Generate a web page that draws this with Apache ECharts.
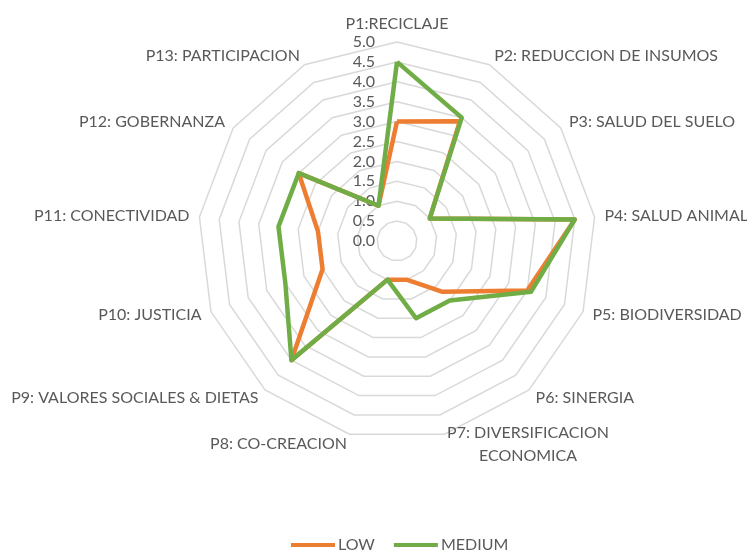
<!DOCTYPE html>
<html>
<head>
<meta charset="utf-8">
<script src="https://cdn.jsdelivr.net/npm/echarts@6/dist/echarts.min.js"></script>
<style>
  html, body { margin: 0; padding: 0; background: #fff; }
  #chart { width: 747px; height: 552px; }
</style>
</head>
<body>
<div id="chart"></div>
<script>
// Principles, listed clockwise from the top
const categories = [
  'P1:RECICLAJE',
  'P2: REDUCCION DE INSUMOS',
  'P3: SALUD DEL SUELO',
  'P4: SALUD ANIMAL',
  'P5: BIODIVERSIDAD',
  'P6: SINERGIA',
  'P7: DIVERSIFICACION\nECONOMICA',
  'P8: CO-CREACION',
  'P9: VALORES SOCIALES & DIETAS',
  'P10: JUSTICIA',
  'P11: CONECTIVIDAD',
  'P12: GOBERNANZA',
  'P13: PARTICIPACION'
];
const lowValues    = [3.0, 3.4, 1.0, 4.5, 3.5, 1.7, 1.0, 1.0, 4.0, 2.0, 2.0, 3.0, 1.0];
const mediumValues = [4.5, 3.5, 1.0, 4.5, 3.6, 2.0, 2.0, 1.0, 4.0, 3.0, 3.0, 3.0, 1.0];
const seriesNames  = ['LOW', 'MEDIUM'];
const seriesColors = ['#ED7D31', '#70AD47'];
const scaleMax = 5;
const scaleStep = 0.5;

// ECharts lays radar indicators out counter-clockwise; keep the first one on top
// and reverse the rest so the principles run clockwise.
const order = [0].concat(categories.slice(1).map((_, i) => categories.length - 1 - i));
const pick = arr => order.map(i => arr[i]);

const textColor = '#595959';
const fontFamily = 'Lato, "Noto Sans", sans-serif';
const fontSize = 16;

const indicator = pick(categories).map((name, k) => {
  const ind = { name: name, min: 0, max: scaleMax };
  if (k === 0) {
    // value scale printed once, beside the top spoke
    ind.axisLabel = {
      show: true,
      color: textColor,
      fontSize: fontSize,
      fontFamily: fontFamily,
      padding: [0, 14, 0, 0],
      formatter: v => Number(v).toFixed(1)
    };
  }
  return ind;
});

// two-line names: centre each line inside its block
const nameFormatter = name => {
  if (name.indexOf('\n') < 0) return name;
  return name.split('\n').map(line => '{c|' + line + '}').join('\n');
};

const chart = echarts.init(document.getElementById('chart'), null, { renderer: 'canvas' });
chart.setOption({
  backgroundColor: '#ffffff',
  animation: false,
  color: seriesColors,
  legend: {
    data: seriesNames,
    top: 532,
    left: 286,
    icon: 'rect',
    itemWidth: 44,
    itemHeight: 4,
    itemGap: 19,
    textStyle: { color: textColor, fontSize: fontSize, fontFamily: fontFamily, padding: [0, 0, 0, -2] }
  },
  radar: {
    center: [397, 241],
    radius: 199,
    startAngle: 90,
    shape: 'polygon',
    splitNumber: scaleMax / scaleStep,
    indicator: indicator,
    axisName: {
      color: textColor,
      fontSize: fontSize,
      fontFamily: fontFamily,
      formatter: nameFormatter,
      rich: {
        c: { width: 162, align: 'center', lineHeight: 23, color: textColor, fontSize: fontSize, fontFamily: fontFamily }
      }
    },
    nameGap: 10,
    axisLine: { show: false },
    axisTick: { show: false },
    axisLabel: { show: false },
    splitLine: { lineStyle: { color: '#D9D9D9', width: 1.5 } },
    splitArea: { show: false }
  },
  series: [{
    type: 'radar',
    symbol: 'none',
    data: [
      { name: seriesNames[0], value: pick(lowValues),
        lineStyle: { color: seriesColors[0], width: 4.5 } },
      { name: seriesNames[1], value: pick(mediumValues),
        lineStyle: { color: seriesColors[1], width: 4.5 } }
    ]
  }]
});
</script>
</body>
</html>
